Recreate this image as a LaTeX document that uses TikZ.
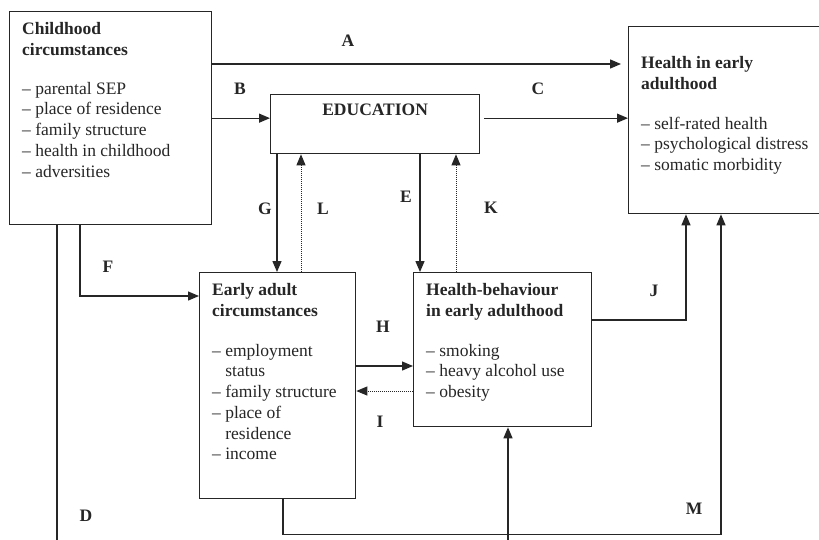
\documentclass[tikz,border=0pt]{standalone}
\usepackage{fontspec}
\setmainfont{Liberation Serif}
\usetikzlibrary{arrows.meta,calc}

\begin{document}
\begin{tikzpicture}[x=1pt,y=-1pt,
    box/.style={draw=black!85, line width=1.3pt, inner sep=0pt, anchor=north west},
    txt/.style={anchor=north west, inner sep=0pt, align=left, text=black!85, font=\fontsize{17.5}{20.7}\selectfont},
    lab/.style={text=black!85, font=\fontsize{17.5}{20}\selectfont\bfseries},
    arr/.style={draw=black!85, line width=1.3pt, -{Triangle[length=11pt,width=9pt]}},
    dotarr/.style={draw=black!85, line width=0.9pt, dash pattern=on 0.8pt off 1.2pt, -{Triangle[length=11pt,width=9pt]}},
    link/.style={draw=black!85, line width=1.3pt}
  ]
  \clip (0,0) rectangle (819,539);
  \useasboundingbox (0,0) rectangle (819,539);

  % boxes
  \node[box, minimum width=202pt, minimum height=213pt] (child) at (9,11) {};
  \node[box, minimum width=209pt, minimum height=59pt] (edu) at (270,94) {};
  \node[box, minimum width=220pt, minimum height=187pt] (health) at (628,26) {};
  \node[box, minimum width=156pt, minimum height=226pt] (early) at (199,272) {};
  \node[box, minimum width=178pt, minimum height=154pt] (hb) at (413,272) {};

  % box texts
  \node[txt] (childtxt) at ($(child.north west)+(13,11.5)$)
    {\textbf{Childhood}\\\textbf{circumstances}\\[18pt]
     – parental SEP\\– place of residence\\– family structure\\– health in childhood\\– adversities};
  \node[txt, anchor=north] (edutxt) at ($(edu.north)+(0,10)$) {\textbf{EDUCATION}};
  \node[txt] (healthtxt) at ($(health.north west)+(13,30.5)$)
    {\textbf{Health in early}\\\textbf{adulthood}\\[19pt]
     – self-rated health\\– psychological distress\\– somatic morbidity};
  \node[txt] (earlytxt) at ($(early.north west)+(13,11.5)$)
    {\textbf{Early adult}\\\textbf{circumstances}\\[19pt]
     – employment\\\hphantom{– }status\\– family structure\\– place of\\\hphantom{– }residence\\– income};
  \node[txt] (hbtxt) at ($(hb.north west)+(13,11.5)$)
    {\textbf{Health-behaviour}\\\textbf{in early adulthood}\\[19pt]
     – smoking\\– heavy alcohol use\\– obesity};

  % helper points
  \coordinate (bottom) at (0,545);
  \coordinate (a1) at ($(child.north east)+(0,53)$);
  \coordinate (c1) at ($(child.east -| edu.east)+(4,0)$);
  \coordinate (g1) at ($(edu.south west)+(7,0)$);
  \coordinate (l1) at ($(early.north west)+(102,0)$);
  \coordinate (e1) at ($(edu.south west)+(150,0)$);
  \coordinate (k1) at ($(hb.north west)+(43,0)$);
  \coordinate (f1) at ($(child.south west)+(71,0)$);
  \coordinate (d1) at ($(child.south west)+(48,0)$);
  \coordinate (h1) at ($(early.north east)+(0,94)$);
  \coordinate (i1) at ($(hb.north west)+(0,119)$);
  \coordinate (j1) at ($(hb.north east)+(0,48)$);
  \coordinate (j2) at ($(health.south west)+(58,0)$);
  \coordinate (m1) at ($(early.south west)+(84,0)$);
  \coordinate (m2) at ($(health.south west)+(93,0)$);
  \coordinate (n1) at ($(hb.south west)+(95,0)$);

  % connectors
  \draw[arr, shorten >=7pt] (a1) -- (a1 -| health.west);
  \draw[arr] (child.east) -- (child.east -| edu.west);
  \draw[arr] (c1) -- (c1 -| health.west);
  \draw[arr] (g1) -- (g1 |- early.north);
  \draw[dotarr] (l1) -- (l1 |- edu.south);
  \draw[arr] (e1) -- (e1 |- hb.north);
  \draw[dotarr] (k1) -- (k1 |- edu.south);
  \draw[arr] (f1) |- ($(early.north west)+(0,24)$);
  \draw[link] (d1) -- (d1 |- bottom);
  \draw[arr] (h1) -- (h1 -| hb.west);
  \draw[dotarr] (i1) -- (i1 -| early.east);
  \draw[arr] (j1) -| (j2);
  \draw[arr] (m1) -- ++(0,35) -| (m2);
  \draw[arr] (n1 |- bottom) -- (n1);

  % labels
  \node[lab] (la) at (348,41) {A};
  \node[lab] (lb) at (240,89) {B};
  \node[lab] (lc) at (538,89) {C};
  \node[lab] (ld) at (86,516) {D};
  \node[lab] (le) at (406,197) {E};
  \node[lab] (lf) at (108,267) {F};
  \node[lab] (lg) at (265,209) {G};
  \node[lab] (lh) at (383,327) {H};
  \node[lab] (li) at (380,422) {I};
  \node[lab] (lj) at (654,291) {J};
  \node[lab] (lk) at (491,208) {K};
  \node[lab] (ll) at (323,209) {L};
  \node[lab] (lm) at (694,509) {M};
\end{tikzpicture}
\end{document}
